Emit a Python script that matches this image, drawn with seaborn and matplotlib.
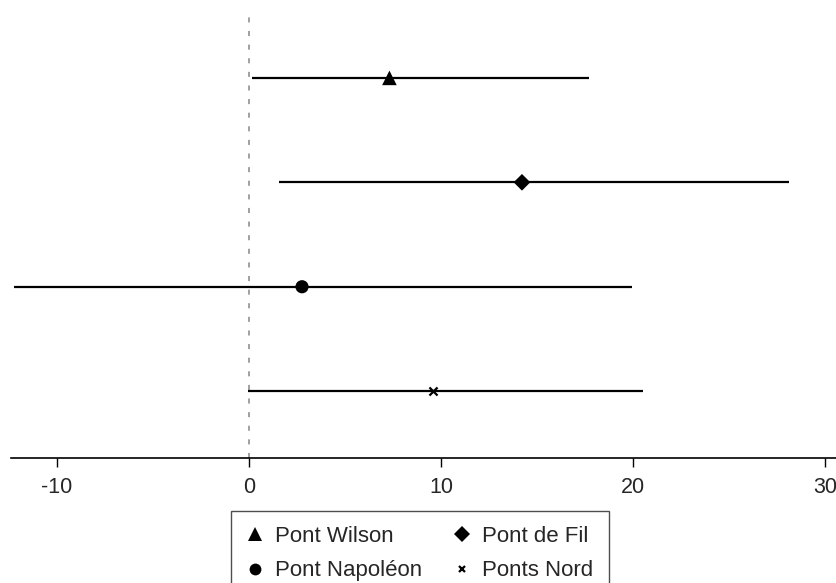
import pandas as pd
import matplotlib
matplotlib.use("Agg")
import matplotlib.pyplot as plt
import seaborn as sns
from matplotlib.lines import Line2D

# Estimates and confidence intervals by bridge (top to bottom)
bridges = ["Pont Wilson", "Pont de Fil", "Pont Napoléon", "Ponts Nord"]
estimates = [7.3, 14.2, 2.75, 9.55]
ci_low = [0.15, 1.55, -12.25, -0.05]
ci_high = [17.7, 28.1, 19.95, 20.5]
xticks = [-10, 0, 10, 20, 30]

markers = {"Pont Wilson": "^", "Pont de Fil": "D", "Pont Napoléon": "o", "Ponts Nord": "x"}
sizes = {"Pont Wilson": 110, "Pont de Fil": 72, "Pont Napoléon": 90, "Ponts Nord": 34}

df = pd.DataFrame({"bridge": bridges, "est": estimates, "lo": ci_low, "hi": ci_high})

sns.set_style("white")
plt.rcParams["font.family"] = ["Liberation Sans", "DejaVu Sans"]

fig = plt.figure(figsize=(8.37, 5.83), dpi=100)
ax = fig.add_axes([11 / 837, 125 / 583, 826 / 837, 448 / 583])

# reference line at zero
ax.axvline(0, color="#a0a0a0", lw=1.4, ls=(0, (2.6, 4.4)), zorder=1)

# confidence intervals
ax.hlines(df["bridge"], df["lo"], df["hi"], color="black", lw=1.6, zorder=2)

filled = df[df["bridge"] != "Ponts Nord"]
filled_markers = {b: markers[b] for b in filled["bridge"]}
filled_sizes = {b: sizes[b] for b in filled["bridge"]}
sns.scatterplot(data=filled, x="est", y="bridge", style="bridge", markers=filled_markers,
                size="bridge", sizes=filled_sizes, color="black", edgecolor="black",
                linewidth=0, legend=False, ax=ax, zorder=3)
cross = df[df["bridge"] == "Ponts Nord"]
sns.scatterplot(data=cross, x="est", y="bridge", marker="x", s=sizes["Ponts Nord"],
                color="black", linewidth=1.6, legend=False, ax=ax, zorder=3)

ax.set_xlim(-12.4, 30.6)
ax.set_ylim(3.64, -0.65)
ax.set_xticks(xticks)
ax.set_xticklabels([str(t) for t in xticks])
ax.set_yticks([])
ax.set_xlabel("")
ax.set_ylabel("")
for side in ["top", "right", "left"]:
    ax.spines[side].set_visible(False)
ax.spines["bottom"].set_color("black")
ax.spines["bottom"].set_linewidth(1.2)
ax.tick_params(axis="x", bottom=True, length=6.5, width=1.0, color="black",
               labelsize=15.5, pad=7)

# legend laid out row by row: matplotlib fills columns first
legend_order = ["Pont Wilson", "Pont Napoléon", "Pont de Fil", "Ponts Nord"]
handles = [Line2D([], [], ls="none", marker=markers[b], color="black",
                  markersize=(9.5 if b == "Pont Wilson" else 8.5 if b != "Ponts Nord" else 5),
                  markeredgewidth=(0 if b != "Ponts Nord" else 1.6))
           for b in legend_order]
leg = fig.legend(handles, legend_order, ncol=2, loc="upper center",
                 bbox_to_anchor=(420 / 837, 1 - 511 / 583), frameon=True,
                 fancybox=False, fontsize=16, handlelength=0.8, handletextpad=0.5,
                 columnspacing=1.4, labelspacing=0.6, borderpad=0.68,
                 borderaxespad=0)
leg.get_frame().set_edgecolor("#222222")
leg.get_frame().set_linewidth(1.0)

fig.savefig("out.png", dpi=100)
